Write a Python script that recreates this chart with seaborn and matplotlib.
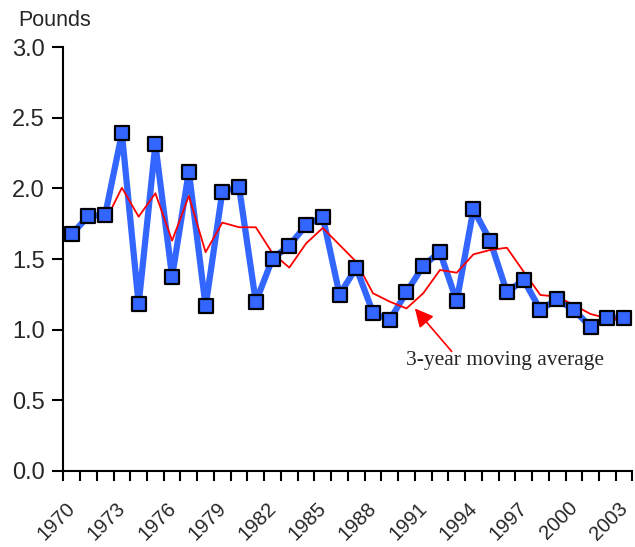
import numpy as np
import pandas as pd
import matplotlib
matplotlib.use("Agg")
import matplotlib.pyplot as plt
import matplotlib.transforms as mtransforms
import seaborn as sns

# values
years = list(range(1970, 2004))
pounds = [1.675, 1.805, 1.812, 2.39, 1.18, 2.313, 1.375, 2.12, 1.165, 1.977,
          2.008, 1.196, 1.503, 1.595, 1.739, 1.80, 1.248, 1.438, 1.12, 1.068,
          1.264, 1.452, 1.55, 1.20, 1.852, 1.63, 1.264, 1.352, 1.139, 1.215,
          1.139, 1.02, 1.084, 1.084]
ma_years = list(range(1972, 2004))
moving_avg = [1.765, 2.005, 1.80, 1.966, 1.63, 1.947, 1.548, 1.758, 1.725, 1.725,
              1.54, 1.439, 1.61, 1.72, 1.60, 1.48, 1.257, 1.198, 1.15, 1.257,
              1.422, 1.403, 1.533, 1.564, 1.58, 1.41, 1.245, 1.233, 1.174, 1.11,
              1.08, 1.073]
label_years = list(range(1970, 2004, 3))

df = pd.DataFrame({"year": years, "pounds": pounds})
ma = pd.DataFrame({"year": ma_years, "avg": moving_avg})

sns.set_style("white")
plt.rcParams["font.family"] = ["Liberation Sans", "DejaVu Sans"]

fig = plt.figure(figsize=(6.35, 5.47), dpi=100)
ax = fig.add_axes([0.0997, 0.1395, 0.8963, 0.774])

# blue line, then red average, then the square markers on top
sns.lineplot(data=df, x="year", y="pounds", ax=ax, color="#3366ff", lw=4.5,
             zorder=2)
sns.lineplot(data=ma, x="year", y="avg", ax=ax, color="red", lw=1.3, zorder=3)
sns.scatterplot(data=df, x="year", y="pounds", ax=ax, marker="s", s=115,
                color="#3366ff", edgecolor="black", linewidth=1.6, zorder=4)

ax.set_xlim(years[0] - 0.5, years[-1] + 0.5)
ax.set_ylim(0, 3.0)
ax.set_yticks(np.arange(0, 3.01, 0.5))
ax.set_yticklabels([f"{v:.1f}" for v in np.arange(0, 3.01, 0.5)], fontsize=17)

# ticks on category boundaries, labels on category centres
ax.set_xticks([y - 0.5 for y in years] + [years[-1] + 0.5])
ax.set_xticklabels([])
ax.set_xticks(label_years, minor=True)
ax.set_xticklabels([str(y) for y in label_years], minor=True, fontsize=14.5,
                   rotation=45, ha="right", rotation_mode="anchor")
ax.tick_params(axis="x", which="major", bottom=True, direction="out",
               length=7, width=1.5, color="black")
ax.tick_params(axis="x", which="minor", bottom=True, length=0, pad=12)
ax.tick_params(axis="y", left=True, direction="out", length=8, width=1.5,
               color="black", pad=5.5)

shift = mtransforms.ScaledTranslation(-6 / 100, -11 / 100, fig.dpi_scale_trans)
for lab in ax.get_xticklabels(minor=True):
    lab.set_transform(lab.get_transform() + shift)

ax.set_xlabel("")
ax.set_ylabel("")
for s in ["top", "right"]:
    ax.spines[s].set_visible(False)
for s in ["left", "bottom"]:
    ax.spines[s].set_linewidth(1.5)
    ax.spines[s].set_color("black")

fig.text(0.028, 0.963, "Pounds", fontsize=15.5, ha="left", va="center")

ax.annotate("", xy=(1990.5, 1.15), xytext=(1992.7, 0.845),
            arrowprops=dict(arrowstyle="-|>", color="red", lw=1.2,
                            mutation_scale=28, shrinkA=0, shrinkB=0))
ax.text(1995.9, 0.78, "3-year moving average", fontsize=15.5,
        family="Liberation Serif", ha="center", va="center")

fig.savefig("out.png", dpi=100)
